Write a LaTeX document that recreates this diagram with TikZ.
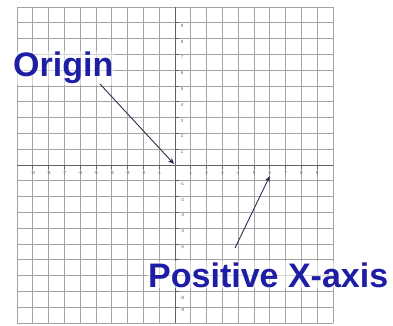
\documentclass[tikz,border=0pt]{standalone}
\usepackage{fontspec}
\setmainfont{Liberation Sans}
\usetikzlibrary{arrows.meta}
\definecolor{lblue}{RGB}{30,30,165}
\definecolor{arrowc}{RGB}{45,45,80}
\begin{document}
\begin{tikzpicture}[x=1pt,y=-1pt,
  gridline/.style={draw=black!36,line width=0.8pt},
  axisline/.style={draw=black!62,line width=1pt},
  tickmark/.style={draw=black!62,line width=0.8pt},
  ticklabel/.style={font=\fontsize{4.5}{4.5}\selectfont,text=black!60,inner sep=0.5pt},
  callout/.style={font=\fontsize{34}{34}\selectfont\bfseries,text=lblue,inner sep=1pt,fill=white,fill opacity=0.55,text opacity=1},
  pointer/.style={draw=arrowc,line width=0.9pt,-{Stealth[length=6pt,width=5pt]}}]
\path[use as bounding box,fill=white] (0,0) rectangle (393,326);
\def\gs{15.8}
\foreach \i in {-10,...,10} {
  \draw[gridline] ({175+\i*\gs},7) -- ({175+\i*\gs},323);
  \draw[gridline] (17,{165+\i*\gs}) -- (333,{165+\i*\gs});
}
\draw[axisline] (17,165) -- (333,165);
\draw[axisline] (175,7) -- (175,323);
\foreach \i in {-9,...,-1,1,2,...,9} {
  \draw[tickmark] ({175+\i*\gs},165) -- ({175+\i*\gs},169);
  \node[ticklabel] at ({175+\i*\gs},173) {\i};
  \draw[tickmark] (175,{165+\i*\gs}) -- (179,{165+\i*\gs});
}
\foreach \i in {-9,...,-1,1,2,3,4,5,9} {
  \pgfmathtruncatemacro{\yl}{-\i}
  \node[ticklabel] at (182,{165+\i*\gs+3}) {\yl};
}
\node[ticklabel] (ylabel8) at (182,{165+8*\gs+7}) {-8};
\node[callout, anchor=base west] (originlabel) at (12,77) {Origin};
\node[callout, text depth=0pt, anchor=base west] (posxlabel) at (147,287) {Positive X-axis};
\coordinate (o) at (174,164);
\coordinate (x6) at ({175+6*\gs},176);
\coordinate (ostart) at (100,84);
\coordinate (pstart) at (235,248);
\draw[pointer] (ostart) -- (o);
\draw[pointer] (pstart) -- (x6);
\end{tikzpicture}
\end{document}
